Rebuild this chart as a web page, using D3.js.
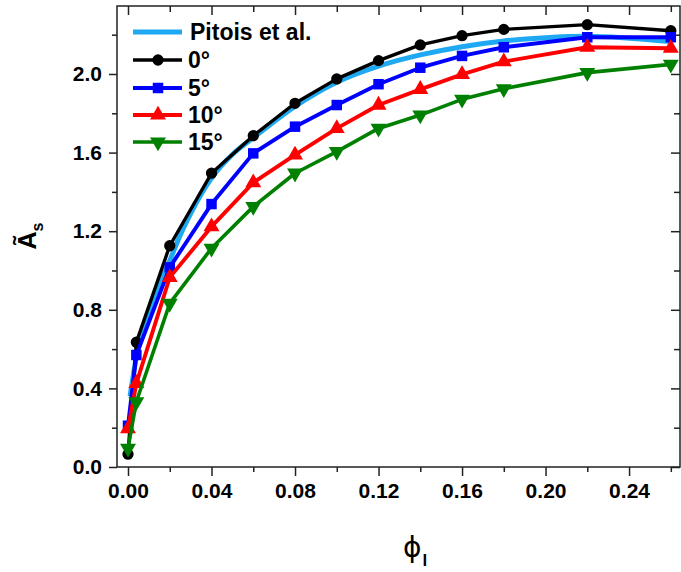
<!DOCTYPE html>
<html>
<head>
<meta charset="utf-8">
<script src="https://cdn.jsdelivr.net/npm/d3@7"></script>
<style>
  html, body { margin: 0; padding: 0; background: #fff; }
  svg { display: block; }
  text { font-family: "Liberation Sans", Arial, sans-serif; font-weight: bold; fill: #000; }
</style>
</head>
<body>
<svg id="chart" width="681" height="572"></svg>
<script>
// ---- data ----
const phiX = [0, 0.004, 0.02, 0.04, 0.06, 0.08, 0.10, 0.12, 0.14, 0.16, 0.18, 0.22, 0.26];
const deg0  = [0.065, 0.635, 1.126, 1.495, 1.686, 1.851, 1.975, 2.068, 2.148, 2.195, 2.227, 2.251, 2.220];
const deg5  = [0.210, 0.570, 1.016, 1.338, 1.596, 1.732, 1.842, 1.948, 2.032, 2.092, 2.136, 2.187, 2.187];
const deg10 = [0.195, 0.426, 0.965, 1.223, 1.447, 1.588, 1.723, 1.842, 1.922, 1.998, 2.063, 2.136, 2.131];
const deg15 = [0.095, 0.332, 0.833, 1.113, 1.325, 1.495, 1.605, 1.723, 1.791, 1.871, 1.925, 2.007, 2.049];
const pitoisX = [0.001, 0.004, 0.008, 0.012, 0.016, 0.02, 0.025, 0.03, 0.04, 0.05, 0.06, 0.08, 0.10, 0.12, 0.14, 0.16, 0.18, 0.20, 0.22, 0.24, 0.26];
const pitoisY = [0.36, 0.56, 0.72, 0.85, 0.95, 1.05, 1.18, 1.29, 1.47, 1.59, 1.675, 1.835, 1.958, 2.04, 2.097, 2.139, 2.168, 2.185, 2.192, 2.182, 2.165];
const xMajorTicks = [0, 0.04, 0.08, 0.12, 0.16, 0.20, 0.24];
const xMinorTicks = [0.02, 0.06, 0.10, 0.14, 0.18, 0.22, 0.26];
const yMajorTicks = [0, 0.4, 0.8, 1.2, 1.6, 2.0];
const yMinorTicks = [0.2, 0.6, 1.0, 1.4, 1.8, 2.2];
const seriesNames = ["Pitois et al.", "0°", "5°", "10°", "15°"];

// ---- layout ----
const L = 117, R = 680, T = 6, B = 467;
const svg = d3.select("#chart");
const x = d3.scaleLinear().domain([-0.00527, 0.2644]).range([L, R]);
const y = d3.scaleLinear().domain([0, 2.346]).range([B, T]);

const series = [
  { name: seriesNames[1], vals: deg0,  color: "#000000", sym: d3.symbolCircle,   size: 100, rot: 0,   w: 3.4 },
  { name: seriesNames[2], vals: deg5,  color: "#0000ff", sym: d3.symbolSquare,   size: 110, rot: 0,   w: 3.9 },
  { name: seriesNames[3], vals: deg10, color: "#ff0000", sym: d3.symbolTriangle, size: 110, rot: 0,   w: 3.9 },
  { name: seriesNames[4], vals: deg15, color: "#008000", sym: d3.symbolTriangle, size: 110, rot: 180, w: 3.6 }
];
const pitoisColor = "#1fa9f2";

// ---- axes ----
function styleAxis(g) {
  g.select(".domain").remove();
  g.selectAll(".tick line").attr("stroke", "#222").attr("stroke-width", 1.5);
  g.selectAll(".tick text").style("font-size", "21px").style("font-family", "'Liberation Sans', Arial, sans-serif").style("font-weight", "bold").attr("fill", "#000");
}
// bottom
svg.append("g").attr("transform", `translate(0,${B})`)
  .call(d3.axisBottom(x).tickValues(xMajorTicks).tickSize(9).tickPadding(7).tickFormat(d3.format(".2f")))
  .call(styleAxis);
svg.append("g").attr("transform", `translate(0,${B})`)
  .call(d3.axisBottom(x).tickValues(xMinorTicks).tickSize(5).tickFormat(""))
  .call(styleAxis);
// top (inward)
svg.append("g").attr("transform", `translate(0,${T})`)
  .call(d3.axisBottom(x).tickValues(xMajorTicks).tickSize(9).tickFormat(""))
  .call(styleAxis);
svg.append("g").attr("transform", `translate(0,${T})`)
  .call(d3.axisBottom(x).tickValues(xMinorTicks).tickSize(6).tickFormat(""))
  .call(styleAxis);
// left
svg.append("g").attr("transform", `translate(${L},0)`)
  .call(d3.axisLeft(y).tickValues(yMajorTicks).tickSize(8).tickPadding(7).tickFormat(d3.format(".1f")))
  .call(styleAxis);
svg.append("g").attr("transform", `translate(${L},0)`)
  .call(d3.axisLeft(y).tickValues(yMinorTicks).tickSize(5).tickFormat(""))
  .call(styleAxis);
// right (inward)
svg.append("g").attr("transform", `translate(${R},0)`)
  .call(d3.axisLeft(y).tickValues(yMajorTicks).tickSize(9).tickFormat(""))
  .call(styleAxis);
svg.append("g").attr("transform", `translate(${R},0)`)
  .call(d3.axisLeft(y).tickValues(yMinorTicks).tickSize(6).tickFormat(""))
  .call(styleAxis);

// frame
svg.append("rect").attr("x", L).attr("y", T).attr("width", R - L).attr("height", B - T)
  .attr("fill", "none").attr("stroke", "#222").attr("stroke-width", 1.5);

// ---- data lines ----
const plot = svg.append("g");
const pitoisLine = d3.line().x((d, i) => x(pitoisX[i])).y(d => y(d)).curve(d3.curveMonotoneX);
plot.append("path").datum(pitoisY).attr("d", pitoisLine)
  .attr("fill", "none").attr("stroke", pitoisColor).attr("stroke-width", 5);

const line = d3.line().x((d, i) => x(phiX[i])).y(d => y(d));
series.forEach(s => {
  const g = plot.append("g");
  g.append("path").datum(s.vals).attr("d", line)
    .attr("fill", "none").attr("stroke", s.color).attr("stroke-width", s.w).attr("stroke-linejoin", "round");
  g.selectAll("path.m").data(s.vals).enter().append("path").attr("class", "m")
    .attr("d", d3.symbol().type(s.sym).size(s.size))
    .attr("transform", (d, i) => `translate(${x(phiX[i])},${y(d)}) rotate(${s.rot})`)
    .attr("fill", s.color);
});

// ---- legend ----
const lg = svg.append("g");
const rowsY = [32, 60, 88, 115, 142];
lg.append("line").attr("x1", 133).attr("x2", 182).attr("y1", rowsY[0]).attr("y2", rowsY[0])
  .attr("stroke", pitoisColor).attr("stroke-width", 5);
lg.append("text").attr("x", 190).attr("y", rowsY[0] + 8).style("font-size", "23px").text(seriesNames[0]);
series.forEach((s, i) => {
  const yy = rowsY[i + 1];
  lg.append("line").attr("x1", 133).attr("x2", 182).attr("y1", yy).attr("y2", yy)
    .attr("stroke", s.color).attr("stroke-width", s.w);
  lg.append("path").attr("d", d3.symbol().type(s.sym).size(s.size))
    .attr("transform", `translate(158,${yy}) rotate(${s.rot})`).attr("fill", s.color);
  lg.append("text").attr("x", 188).attr("y", yy + 8).style("font-size", "23px").text(s.name);
});

// ---- axis titles ----
const yl = svg.append("text").attr("transform", "translate(36,236) rotate(-90)")
  .attr("text-anchor", "middle").style("font-size", "25px");
yl.append("tspan").text("Ã");
yl.append("tspan").attr("dy", 7).style("font-size", "16px").text("s");

const xl = svg.append("text").attr("x", 403).attr("y", 557).attr("text-anchor", "start")
  .style("font-family", "'DejaVu Sans', sans-serif");
xl.append("tspan").style("font-size", "28px").style("font-weight", "normal").text("ϕ");
xl.append("tspan").attr("dy", 9).attr("dx", 1).style("font-size", "17px").style("font-family", "'Liberation Sans', Arial, sans-serif").text("l");
</script>
</body>
</html>
